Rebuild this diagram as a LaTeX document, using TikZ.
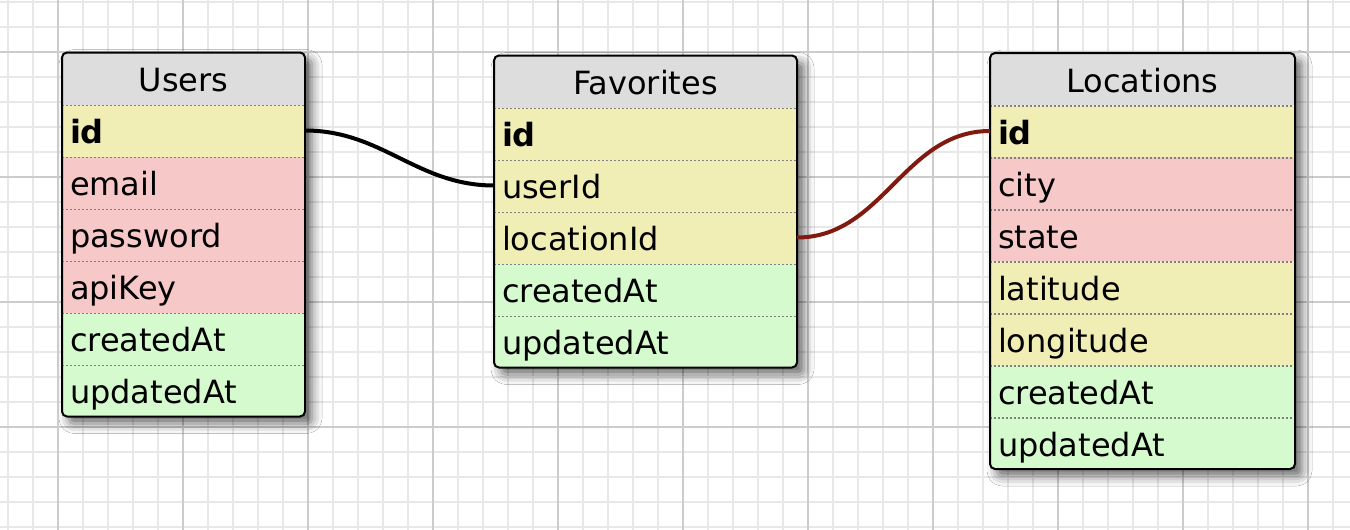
\documentclass[tikz,border=0pt]{standalone}
\usepackage{fontspec}
\setmainfont{DejaVu Sans}
\usetikzlibrary{shadows.blur}

\definecolor{keyrow}{RGB}{240,238,180}
\definecolor{reqrow}{RGB}{247,200,200}
\definecolor{timerow}{RGB}{212,250,206}
\definecolor{headrow}{RGB}{221,221,221}
\definecolor{gridminor}{RGB}{232,232,232}
\definecolor{gridmajor}{RGB}{204,204,204}
\definecolor{fklink}{RGB}{128,26,16}

\begin{document}
\begin{tikzpicture}[x=0.5pt,y=-0.5pt,
  cell/.style={anchor=north west, outer sep=0pt, minimum height=26pt, inner xsep=4pt, inner ysep=0pt, text width=#1, text height=15pt, text depth=2pt, font=\fontsize{16pt}{19pt}\selectfont},
  head/.style={cell=#1, align=center, fill=headrow},
  field/.style={cell=#1, align=left, path picture={\draw[rowsep] ([yshift=-0.4pt]path picture bounding box.north west) -- ([yshift=-0.4pt]path picture bounding box.north east);}},
  rowsep/.style={black!50, line width=0.8pt, dash pattern=on 0.8pt off 1.2pt},
  tablebox/.style={anchor=north west, outer sep=0pt, fill=white, inner sep=0pt, rounded corners=2.5pt, blur shadow={shadow xshift=3.5pt, shadow yshift=-3.5pt, shadow blur radius=5pt, shadow opacity=60}},
  tableframe/.style={draw=black, line width=1pt, rounded corners=2.5pt},
  link/.style={line width=2pt},
  minor/.style={gridminor, line width=1pt},
  major/.style={gridmajor, line width=1pt}]

  \useasboundingbox[fill=white] (0,0) rectangle (1350,530);

  % grid
  \foreach \x in {8,33,...,1350} \draw[minor] (\x,0) -- (\x,530);
  \foreach \y in {2,27,...,530} \draw[minor] (0,\y) -- (1350,\y);
  \foreach \x in {58,183,...,1350} \draw[major] (\x,0) -- (\x,530);
  \foreach \y in {52,177,...,530} \draw[major] (0,\y) -- (1350,\y);

  % Users
  \node[tablebox, minimum width=121.5pt, minimum height=182pt] (users) at (62,52.5) {};
  \begin{scope}
    \clip[rounded corners=2.5pt] (users.north west) rectangle (users.south east);
    \node[head=113.5pt] (usershead) at (users.north west) {Users};
    \node[field=113.5pt, fill=keyrow] (usersid) at (usershead.south west) {\textbf{id}};
    \node[field=113.5pt, fill=reqrow] (usersemail) at (usersid.south west) {email};
    \node[field=113.5pt, fill=reqrow] (userspass) at (usersemail.south west) {password};
    \node[field=113.5pt, fill=reqrow] (userskey) at (userspass.south west) {apiKey};
    \node[field=113.5pt, fill=timerow] (userscreated) at (userskey.south west) {createdAt};
    \node[field=113.5pt, fill=timerow] (usersupdated) at (userscreated.south west) {updatedAt};
  \end{scope}
  \draw[tableframe] (users.north west) rectangle (users.south east);

  % Favorites
  \node[tablebox, minimum width=151.5pt, minimum height=156pt] (favs) at (494,55.5) {};
  \begin{scope}
    \clip[rounded corners=2.5pt] (favs.north west) rectangle (favs.south east);
    \node[head=143.5pt] (favshead) at (favs.north west) {Favorites};
    \node[field=143.5pt, fill=keyrow] (favsid) at (favshead.south west) {\textbf{id}};
    \node[field=143.5pt, fill=keyrow] (favuserid) at (favsid.south west) {userId};
    \node[field=143.5pt, fill=keyrow] (favlocid) at (favuserid.south west) {locationId};
    \node[field=143.5pt, fill=timerow] (favscreated) at (favlocid.south west) {createdAt};
    \node[field=143.5pt, fill=timerow] (favsupdated) at (favscreated.south west) {updatedAt};
  \end{scope}
  \draw[tableframe] (favs.north west) rectangle (favs.south east);

  % Locations
  \node[tablebox, minimum width=152.5pt, minimum height=208pt] (locs) at (990,53) {};
  \begin{scope}
    \clip[rounded corners=2.5pt] (locs.north west) rectangle (locs.south east);
    \node[head=144.5pt] (locshead) at (locs.north west) {Locations};
    \node[field=144.5pt, fill=keyrow] (locid) at (locshead.south west) {\textbf{id}};
    \node[field=144.5pt, fill=reqrow] (loccity) at (locid.south west) {city};
    \node[field=144.5pt, fill=reqrow] (locstate) at (loccity.south west) {state};
    \node[field=144.5pt, fill=keyrow] (loclat) at (locstate.south west) {latitude};
    \node[field=144.5pt, fill=keyrow] (loclng) at (loclat.south west) {longitude};
    \node[field=144.5pt, fill=timerow] (loccreated) at (loclng.south west) {createdAt};
    \node[field=144.5pt, fill=timerow] (locupdated) at (loccreated.south west) {updatedAt};
  \end{scope}
  \draw[tableframe] (locs.north west) rectangle (locs.south east);

  % links
  \path (usersid) [link] edge[out=0, in=180] (favuserid);
  \path (favlocid) [link, fklink] edge[out=0, in=180] (locid);
\end{tikzpicture}
\end{document}
